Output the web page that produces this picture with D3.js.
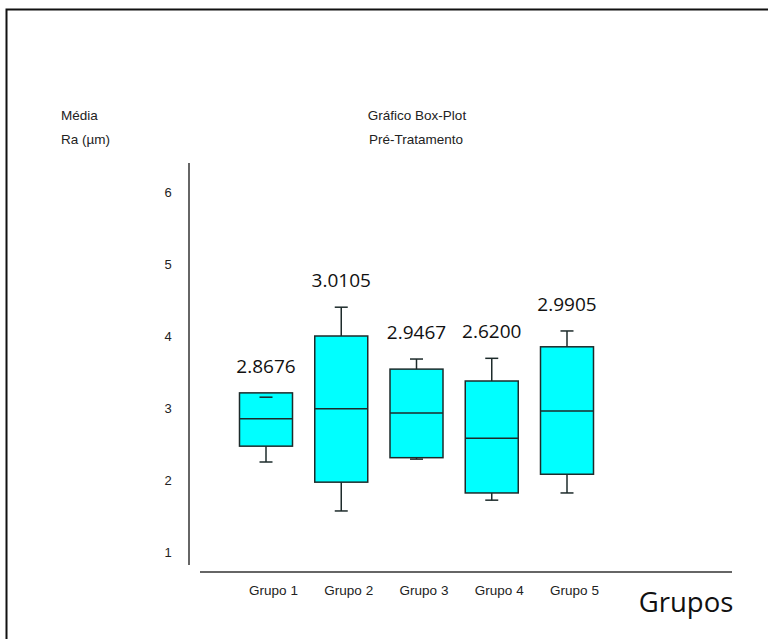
<!DOCTYPE html>
<html>
<head>
<meta charset="utf-8">
<script src="https://cdn.jsdelivr.net/npm/d3@7"></script>
<style>
  body { margin: 0; background: #fff; }
  svg { display: block; }
</style>
</head>
<body>
<div id="chart"></div>
<script>
// values
var groups = ["Grupo 1", "Grupo 2", "Grupo 3", "Grupo 4", "Grupo 5"];
var means = ["2.8676", "3.0105", "2.9467", "2.6200", "2.9905"];
var whiskerLow = [2.25, 1.57, 2.29, 1.72, 1.82];
var q1 = [2.47, 1.97, 2.31, 1.82, 2.08];
var median = [2.85, 2.99, 2.93, 2.58, 2.96];
var q3 = [3.21, 4.00, 3.54, 3.375, 3.85];
var whiskerHigh = [3.15, 4.40, 3.68, 3.69, 4.07];
var yTicks = [1, 2, 3, 4, 5, 6];

var width = 768, height = 639;

var data = groups.map(function(g, i) {
  return { group: g, mean: means[i], lo: whiskerLow[i], q1: q1[i], med: median[i], q3: q3[i], hi: whiskerHigh[i] };
});

var svg = d3.select("#chart")
  .append("svg")
    .attr("width", width)
    .attr("height", height);

// frame (top and left only, like the scan)
svg.append("path")
  .attr("d", "M6.5,639 V9.5 H768")
  .attr("fill", "none")
  .attr("stroke", "#111")
  .attr("stroke-width", 2);

var x = d3.scalePoint()
  .domain(groups)
  .range([266, 567]);

var y = d3.scaleLinear()
  .domain([1, 6])
  .range([552, 192]);

var boxW = 53, capW = 13;

// header texts
var small = "'Liberation Sans', Arial, sans-serif";
svg.append("text").attr("x", 61).attr("y", 120).text("Média")
  .attr("font-family", small).attr("font-size", 13.5).attr("fill", "#222");
svg.append("text").attr("x", 61).attr("y", 144).text("Ra (µm)")
  .attr("font-family", small).attr("font-size", 13.5).attr("fill", "#222");
svg.append("text").attr("x", 417).attr("y", 120).attr("text-anchor", "middle").text("Gráfico Box-Plot")
  .attr("font-family", small).attr("font-size", 13.5).attr("fill", "#222");
svg.append("text").attr("x", 416).attr("y", 144).attr("text-anchor", "middle").text("Pré-Tratamento")
  .attr("font-family", small).attr("font-size", 13.5).attr("fill", "#222");

// y axis
var yAxis = svg.append("g")
  .attr("transform", "translate(189,0)")
  .call(d3.axisLeft(y).tickValues(yTicks).tickSize(0).tickPadding(0).tickFormat(d3.format("d")));
yAxis.select(".domain").remove();
yAxis.selectAll("text")
  .attr("x", -21)
  .attr("text-anchor", "middle")
  .attr("font-family", small)
  .attr("font-size", 13)
  .attr("fill", "#222");

svg.append("line")
  .attr("x1", 189).attr("x2", 189)
  .attr("y1", 163).attr("y2", 565)
  .attr("stroke", "#333").attr("stroke-width", 1.5);

// x axis
var xAxis = svg.append("g")
  .attr("transform", "translate(7,572)")
  .call(d3.axisBottom(x).tickSize(0).tickPadding(13));
xAxis.select(".domain").remove();
xAxis.selectAll("text")
  .attr("font-family", small)
  .attr("font-size", 13.5)
  .attr("fill", "#222");

svg.append("line")
  .attr("x1", 200).attr("x2", 732)
  .attr("y1", 572).attr("y2", 572)
  .attr("stroke", "#333").attr("stroke-width", 1.5);

svg.append("text")
  .attr("x", 686).attr("y", 612)
  .attr("text-anchor", "middle")
  .attr("font-family", "'Open Sans', sans-serif")
  .attr("font-size", 27.5)
  .attr("fill", "#111")
  .text("Grupos");

var stroke = "#1d2b2b";

// whisker stems (behind the boxes)
var box = svg.selectAll(".box")
  .data(data)
  .enter()
  .append("g")
    .attr("class", "box");

box.append("line")
  .attr("x1", function(d) { return x(d.group); })
  .attr("x2", function(d) { return x(d.group); })
  .attr("y1", function(d) { return y(d.lo); })
  .attr("y2", function(d) { return y(d.hi); })
  .attr("stroke", stroke).attr("stroke-width", 1.5);

box.append("rect")
  .attr("x", function(d) { return x(d.group) - boxW / 2; })
  .attr("y", function(d) { return y(d.q3); })
  .attr("width", boxW)
  .attr("height", function(d) { return y(d.q1) - y(d.q3); })
  .attr("fill", "#00ffff")
  .attr("stroke", stroke)
  .attr("stroke-width", 1.5);

box.append("line")
  .attr("x1", function(d) { return x(d.group) - boxW / 2; })
  .attr("x2", function(d) { return x(d.group) + boxW / 2; })
  .attr("y1", function(d) { return y(d.med); })
  .attr("y2", function(d) { return y(d.med); })
  .attr("stroke", stroke).attr("stroke-width", 1.5);

["lo", "hi"].forEach(function(k) {
  box.append("line")
    .attr("x1", function(d) { return x(d.group) - capW / 2; })
    .attr("x2", function(d) { return x(d.group) + capW / 2; })
    .attr("y1", function(d) { return y(d[k]); })
    .attr("y2", function(d) { return y(d[k]); })
    .attr("stroke", stroke).attr("stroke-width", 1.5);
});

// mean labels above each box
box.append("text")
  .attr("x", function(d) { return x(d.group); })
  .attr("y", function(d) { return y(Math.max(d.hi, d.q3)) - 20; })
  .attr("text-anchor", "middle")
  .attr("font-family", "'Open Sans', sans-serif")
  .attr("font-size", 19)
  .attr("fill", "#111")
  .text(function(d) { return d.mean; });
</script>
</body>
</html>
